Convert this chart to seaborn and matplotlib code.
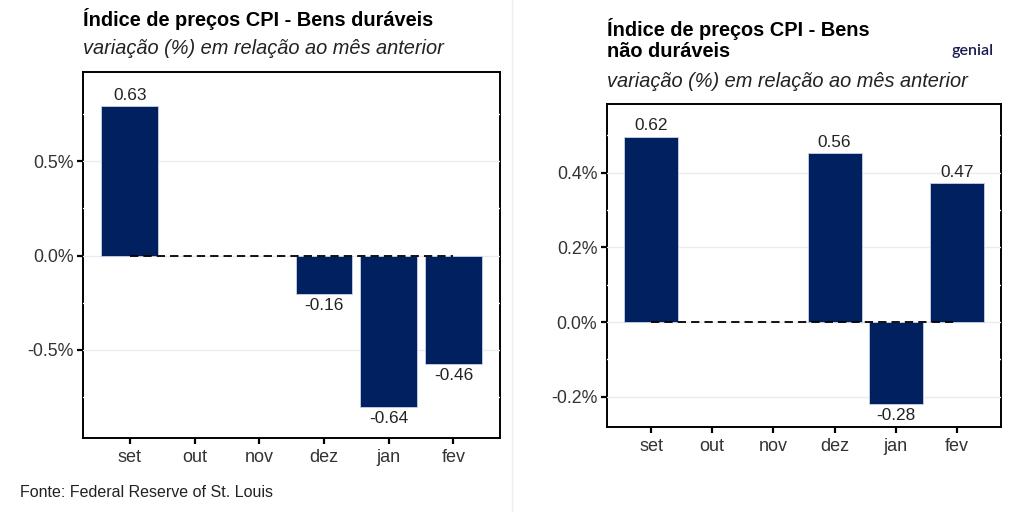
import matplotlib
matplotlib.use("Agg")
import matplotlib.pyplot as plt
import seaborn as sns
import pandas as pd
from matplotlib.lines import Line2D

# ---- data ----
months = ["set", "out", "nov", "dez", "jan", "fev"]

dur_months = ["set", "dez", "jan", "fev"]
dur_values = [0.793, -0.206, -0.804, -0.577]
dur_labels = ["0.63", "-0.16", "-0.64", "-0.46"]
dur_yticks = [-0.5, 0.0, 0.5]
dur_yticklabels = ["-0.5%", "0.0%", "0.5%"]

nd_months = ["set", "dez", "jan", "fev"]
nd_values = [0.496, 0.452, -0.220, 0.371]
nd_labels = ["0.62", "0.56", "-0.28", "0.47"]
nd_yticks = [-0.2, 0.0, 0.2, 0.4]
nd_yticklabels = ["-0.2%", "0.0%", "0.2%", "0.4%"]

title_left = "Índice de preços CPI - Bens duráveis"
title_right_1 = "Índice de preços CPI - Bens"
title_right_2 = "não duráveis"
subtitle = "variação (%) em relação ao mês anterior"
source = "Fonte: Federal Reserve of St. Louis"

BAR = "#00205f"
FONT = ["Liberation Sans", "DejaVu Sans"]

sns.set_theme(style="white")
plt.rcParams["font.family"] = FONT

W, H = 1024, 512
fig = plt.figure(figsize=(W / 100, H / 100), dpi=100)
fig.patch.set_facecolor("white")


def px_axes(x0, y0, x1, y1):
    return fig.add_axes([x0 / W, 1 - y1 / H, (x1 - x0) / W, (y1 - y0) / H])


def draw_panel(ax, cats, vals, labels, ylim, yticks, yticklabels, major, minor):
    df = pd.DataFrame({"mes": cats, "valor": vals})
    sns.barplot(data=df, x="mes", y="valor", order=months, color=BAR,
                saturation=1, width=0.88, edgecolor="#c9d3e6", linewidth=0.6,
                ax=ax, zorder=2)
    ax.set_xlim(-0.72, 5.72)
    ax.set_ylim(*ylim)
    for y in major:
        ax.axhline(y, color="#ebebeb", lw=1.0, zorder=0.8)
    for y in minor:
        ax.axhline(y, color="#ffffff", lw=1.0, zorder=0.8)
    ax.plot([0, 5], [0, 0], ls=(0, (4.6, 2.8)), color="black", lw=1.3, zorder=3)
    ax.set_yticks(yticks)
    ax.set_yticklabels(yticklabels)
    ax.set_xlabel("")
    ax.set_ylabel("")
    for sp in ax.spines.values():
        sp.set_visible(True)
        sp.set_color("black")
        sp.set_linewidth(1.4)
        sp.set_zorder(0.5)
    ax.tick_params(axis="both", which="major", length=4, width=1.6,
                   color="black", labelcolor="#333333",
                   direction="out", bottom=True, left=True, pad=3)
    ax.tick_params(axis="y", labelsize=12.8)
    ax.tick_params(axis="x", labelsize=13, pad=4)
    ax.grid(False)
    pos = {m: i for i, m in enumerate(months)}
    for c, v, lab in zip(cats, vals, labels):
        if v >= 0:
            ax.annotate(lab, (pos[c], v), xytext=(0, 2.5), textcoords="offset points",
                        ha="center", va="bottom", fontsize=12.4, color="#222222")
        else:
            ax.annotate(lab, (pos[c], v), xytext=(0, -2.5), textcoords="offset points",
                        ha="center", va="top", fontsize=12.4, color="#222222")


# left panel
axL = px_axes(83.3, 71.7, 500, 437.7)
draw_panel(axL, dur_months, dur_values, dur_labels, (-0.966, 0.975),
           dur_yticks, dur_yticklabels, [-0.5, 0.0, 0.5], [-0.75, -0.25, 0.25, 0.75])

# right panel
axR = px_axes(607, 104.3, 1001, 426.7)
draw_panel(axR, nd_months, nd_values, nd_labels, (-0.280, 0.583),
           nd_yticks, nd_yticklabels, [-0.2, 0.0, 0.2, 0.4], [-0.1, 0.1, 0.3, 0.5])

# titles
fig.text(83 / W, 1 - 26 / H, title_left, fontsize=14.4, fontweight="bold",
         color="black", ha="left", va="baseline")
fig.text(83 / W, 1 - 54 / H, subtitle, fontsize=14.4, fontstyle="italic",
         color="#222222", ha="left", va="baseline")
fig.text(607 / W, 1 - 36 / H, title_right_1, fontsize=14.4, fontweight="bold",
         color="black", ha="left", va="baseline")
fig.text(607 / W, 1 - 57 / H, title_right_2, fontsize=14.4, fontweight="bold",
         color="black", ha="left", va="baseline")
fig.text(607 / W, 1 - 87 / H, subtitle, fontsize=14.4, fontstyle="italic",
         color="#222222", ha="left", va="baseline")

# logo
fig.text(973 / W, 1 - 55 / H, "genial", fontsize=11.5, color="#1c1c50",
         ha="center", va="baseline", family=["Lato", "DejaVu Sans"], fontweight="semibold")

# source
fig.text(20 / W, 1 - 497 / H, source, fontsize=11.5, color="#222222",
         ha="left", va="baseline")

# faint separator between the two images
fig.add_artist(Line2D([512 / W, 512 / W], [0, 1], color="#eeeeee", lw=1,
                      transform=fig.transFigure))

fig.savefig("out.png", dpi=100, facecolor="white")
